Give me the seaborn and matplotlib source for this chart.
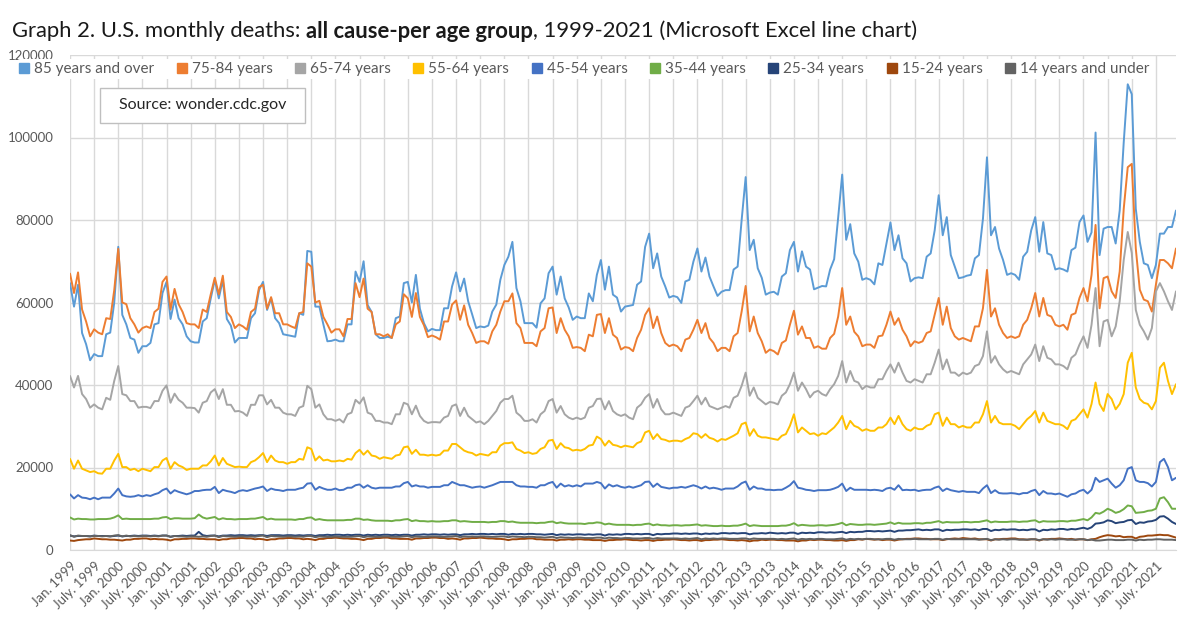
import pandas as pd
import matplotlib
matplotlib.use('Agg')
import matplotlib.pyplot as plt
import seaborn as sns
from matplotlib.lines import Line2D
from matplotlib.patches import Rectangle

sns.set_style('white')
plt.rcParams['font.family'] = ['Lato', 'DejaVu Sans']

# monthly deaths in thousands, one row per year (1999 .. 2021), Jan..Dec
age_85_plus = """
64.7 59.0 64.3 52.6 49.9 46.0 47.5 47.0 47.0 52.3 52.7 60.0
73.5 57.0 54.7 51.4 51.0 47.8 49.4 49.4 50.2 54.7 55.0 62.3
65.0 56.0 60.7 56.2 54.7 51.8 50.6 50.3 50.3 55.4 56.2 61.0
65.5 61.0 65.5 56.0 54.4 50.3 51.4 51.4 51.4 56.2 57.4 63.0
65.0 58.2 61.0 56.2 55.0 52.3 52.1 51.9 51.7 57.4 57.0 72.5
72.3 59.0 59.0 54.7 50.6 50.7 51.0 50.6 50.6 54.7 54.7 67.5
65.0 70.0 59.4 57.7 52.3 51.4 51.4 51.7 51.4 56.2 56.6 64.7
65.0 60.0 66.7 58.5 55.0 53.0 53.6 53.3 53.3 58.6 58.6 63.9
67.3 62.7 65.8 60.3 57.1 53.8 54.2 54.0 54.4 57.8 59.5 65.5
69.1 71.1 74.7 63.5 60.3 55.0 55.0 55.0 53.9 59.8 61.0 67.1
68.7 61.9 66.3 61.0 58.8 55.8 56.6 56.2 56.2 62.2 60.3 66.7
70.3 63.1 68.7 61.9 61.2 57.8 59.0 59.2 59.4 64.3 65.1 73.5
76.7 68.3 71.9 66.3 63.9 61.2 61.6 61.3 59.9 65.1 65.5 69.9
73.1 67.5 70.9 66.3 63.9 61.6 62.6 63.0 63.0 68.0 68.7 80.0
90.4 72.7 75.2 68.3 66.0 61.9 62.4 62.6 61.9 66.3 67.1 72.7
74.7 67.5 72.4 68.7 68.0 63.2 63.6 64.0 63.9 68.0 70.5 80.6
91.0 75.2 79.0 71.9 69.9 65.5 65.9 65.5 64.4 69.5 69.1 74.3
79.4 72.7 76.3 70.7 69.5 65.1 65.9 66.1 65.9 71.1 71.9 77.5
86.0 76.3 80.7 71.5 68.7 65.9 66.1 66.5 66.7 70.7 71.5 80.3
95.2 76.3 78.3 73.1 70.3 66.7 67.1 66.7 65.5 71.1 72.3 77.5
80.7 72.3 79.5 71.9 71.5 68.0 68.3 68.0 67.5 72.7 73.3 79.5
81.1 74.7 77.0 101.2 71.5 77.9 78.3 78.3 74.3 82.3 98.8 112.9
110.5 82.7 74.7 69.5 69.1 65.9 69.1 76.7 76.7 78.3 78.3 82.3
"""

age_75_84 = """
67.0 62.3 67.3 58.3 55.4 51.8 53.5 52.7 52.3 56.2 56.0 63.0
73.0 60.0 59.6 56.2 54.7 52.7 53.8 54.2 53.8 57.7 58.5 65.0
66.3 58.3 63.3 59.6 57.7 55.0 54.7 54.7 53.8 58.3 57.7 62.0
66.0 62.0 66.5 57.7 56.5 53.8 54.7 54.2 53.4 57.7 58.5 63.7
64.3 58.5 61.3 57.4 57.4 54.7 54.7 54.2 53.8 57.4 57.7 69.5
68.7 60.0 60.4 56.5 54.7 52.7 53.5 53.5 51.8 56.0 56.0 64.7
61.3 65.8 58.5 57.7 52.3 52.3 51.8 52.3 51.4 54.7 55.4 62.0
61.0 56.5 62.3 56.5 54.5 51.6 52.0 51.6 51.0 55.4 55.4 59.5
60.5 55.8 59.3 54.6 52.6 50.2 50.6 50.6 50.0 53.0 54.6 57.8
60.3 60.3 62.2 55.0 53.8 50.2 50.2 50.2 49.4 53.0 53.8 58.6
58.8 52.6 56.2 53.4 51.8 49.0 49.2 49.0 48.2 52.2 51.8 57.0
57.2 52.6 56.2 52.2 51.4 48.6 49.2 49.0 48.2 51.4 53.4 57.0
58.6 53.8 56.6 52.6 50.2 49.4 49.8 49.4 48.2 51.0 51.4 53.4
55.8 52.6 55.0 51.4 50.2 48.2 49.0 49.0 48.2 51.8 52.6 57.8
64.0 53.0 56.6 52.6 50.6 47.8 48.6 48.2 47.4 50.2 50.8 54.6
58.0 52.2 54.2 51.4 51.4 49.0 49.4 48.8 48.8 51.4 52.4 56.6
63.5 54.6 56.6 52.9 51.8 49.4 49.8 49.8 49.0 51.8 52.0 54.6
57.8 54.6 56.2 53.4 51.8 49.4 50.6 50.2 50.6 52.6 53.0 57.0
61.1 54.6 59.0 53.8 51.8 51.0 51.4 51.0 50.6 54.2 54.2 58.6
67.9 56.6 58.6 54.6 52.6 51.4 51.8 51.4 51.8 54.6 55.8 58.6
62.3 56.6 61.1 57.0 56.6 54.6 54.2 54.6 53.4 57.0 57.4 61.1
63.5 60.3 66.7 78.8 58.6 65.9 66.3 62.7 61.1 67.5 82.7 92.8
93.6 73.1 63.1 60.7 60.3 57.8 64.3 70.3 70.3 69.5 68.3 73.1
"""

age_65_74 = """
42.2 39.4 42.2 37.8 36.6 34.5 35.3 34.5 34.1 36.9 36.4 41.0
44.6 37.8 37.5 36.1 36.1 34.5 34.7 34.7 34.4 36.1 36.1 38.6
39.9 35.7 37.9 36.4 35.7 34.5 34.5 34.4 33.3 35.7 36.1 38.2
39.0 36.6 39.0 35.2 35.2 33.6 33.7 33.3 32.5 35.2 35.2 37.5
37.5 35.3 36.4 34.5 34.5 33.3 32.9 32.9 32.5 34.5 34.9 39.8
39.0 34.5 35.3 32.9 31.7 31.7 31.3 31.7 30.9 32.9 33.3 36.4
35.5 37.0 33.3 32.9 31.3 31.3 30.9 30.9 30.5 32.9 32.9 35.7
35.3 32.9 35.0 32.5 31.3 30.8 31.0 31.0 30.9 32.1 32.5 34.9
35.3 32.5 34.5 32.5 31.7 30.9 31.2 30.5 31.3 32.5 33.7 35.7
36.6 36.6 37.4 33.3 32.5 31.3 31.3 31.7 30.9 32.9 33.7 36.1
36.6 33.3 34.9 32.9 32.1 31.7 32.1 31.7 32.1 34.5 34.9 36.6
36.7 34.1 36.1 33.7 32.9 32.5 32.9 32.1 31.7 34.5 35.3 36.9
37.8 34.5 36.6 34.1 32.9 32.9 33.3 32.9 32.5 34.5 34.9 36.1
37.4 35.3 36.9 34.9 34.5 34.1 34.5 34.9 34.5 36.9 37.4 39.8
43.0 37.4 39.4 36.9 36.1 35.3 35.9 35.7 35.3 37.4 38.2 40.2
43.0 38.6 40.6 39.0 37.0 38.2 38.6 37.8 37.4 39.0 40.2 42.2
45.8 40.6 43.4 41.0 40.6 39.0 39.8 39.4 39.4 41.4 41.4 43.4
45.0 43.0 45.4 43.0 41.0 40.6 41.4 41.0 40.6 42.6 42.6 45.4
48.6 43.8 46.2 43.0 43.0 42.2 43.0 42.6 43.0 44.6 45.0 47.0
53.0 45.4 47.0 45.0 43.8 43.0 43.4 43.0 42.6 45.0 46.2 47.4
49.8 45.8 49.4 46.6 46.2 45.0 45.0 44.6 43.8 46.6 47.4 49.8
51.8 49.0 54.6 63.5 49.4 55.4 55.8 51.8 54.2 60.3 70.3 77.1
72.0 58.2 54.6 53.0 51.0 53.8 62.7 64.7 62.7 60.3 58.2 62.7
"""

age_55_64 = """
22.1 19.7 21.7 19.7 19.3 18.9 19.1 18.6 18.5 19.7 19.7 21.7
23.3 20.1 20.1 19.4 19.7 19.1 19.7 19.4 19.1 20.1 20.1 21.7
22.3 19.7 21.3 20.5 20.1 19.4 19.7 19.7 19.7 20.5 20.5 21.5
22.9 20.5 22.3 20.9 20.5 20.1 20.2 20.1 20.1 21.3 21.7 22.5
23.5 21.3 22.9 21.7 21.3 21.3 20.9 21.3 21.3 22.1 21.9 24.9
24.5 21.7 22.7 21.7 21.9 21.5 21.5 21.7 21.5 22.1 21.9 23.5
24.3 23.1 24.1 22.9 22.7 22.1 22.5 22.3 22.1 22.9 23.1 24.9
25.1 23.3 24.3 23.1 23.1 22.9 23.1 22.9 23.1 24.1 24.1 25.7
25.7 24.9 24.1 23.7 23.5 22.9 23.3 23.1 22.9 23.7 23.7 25.3
25.9 25.9 26.1 24.5 24.1 23.5 23.7 23.3 23.5 24.5 24.9 26.5
26.7 24.5 25.9 24.9 24.7 24.1 24.3 24.1 24.5 25.3 25.5 27.5
26.9 25.3 26.5 25.5 25.3 24.9 25.3 25.1 24.9 25.9 26.3 28.5
28.9 26.9 28.1 26.9 26.7 26.3 26.5 26.5 26.3 26.9 27.3 28.3
28.1 27.2 28.1 27.2 26.9 26.3 26.9 26.7 27.2 27.7 28.3 30.5
30.9 27.7 29.3 27.7 27.3 27.3 27.1 26.9 26.7 27.7 28.1 30.1
32.9 28.5 29.7 28.9 28.1 28.3 27.7 28.3 28.1 28.9 29.7 30.9
32.5 29.3 31.3 30.1 29.7 28.9 29.3 28.9 28.9 29.7 29.7 30.5
32.1 30.5 32.5 30.5 29.3 28.9 29.7 29.3 29.3 30.1 30.5 32.9
33.3 30.1 32.1 30.5 30.5 29.7 30.1 29.7 29.7 30.9 30.9 32.9
36.1 30.9 32.5 30.9 30.5 30.5 30.5 30.1 29.3 30.5 31.7 32.5
33.7 30.9 33.3 31.3 30.9 30.5 30.5 30.1 29.3 31.3 31.7 32.9
34.1 32.1 35.4 40.6 35.4 33.7 37.8 36.6 34.1 35.4 37.8 45.4
47.8 39.4 36.6 35.7 35.4 34.1 36.1 44.2 45.4 41.0 37.8 40.2
"""

age_45_54 = """
13.5 12.5 13.3 12.7 12.6 12.3 12.7 12.3 12.7 12.7 12.7 13.7
14.9 13.3 13.0 12.9 13.0 13.3 13.0 13.3 13.1 13.5 13.8 14.5
14.9 13.7 14.5 14.1 13.8 13.5 13.8 14.3 14.3 14.5 14.6 14.6
15.3 13.8 14.6 14.3 14.1 13.8 14.3 14.5 14.3 14.6 14.9 15.1
15.4 14.3 14.9 14.6 14.5 14.3 14.6 14.6 14.6 14.9 15.1 16.1
16.2 14.6 15.3 14.9 14.6 14.6 14.9 14.5 14.6 15.1 15.1 15.7
15.9 15.1 15.7 15.1 14.9 15.1 15.1 15.1 15.1 15.4 15.4 16.2
16.5 15.4 15.7 15.4 15.4 15.1 15.3 15.3 15.3 15.7 15.7 16.5
16.1 15.7 15.7 15.4 15.1 15.3 15.4 15.1 15.4 15.7 16.1 16.5
16.5 16.5 16.5 15.7 15.4 15.4 15.3 15.3 15.1 15.7 15.7 16.2
16.5 15.1 16.1 15.4 15.7 15.4 15.7 15.4 16.1 16.1 16.1 16.5
16.2 14.9 15.9 15.4 15.7 15.3 15.1 15.4 15.1 15.4 15.7 16.5
16.6 15.3 16.1 15.3 15.1 14.9 15.1 15.1 15.3 15.1 15.4 15.7
15.4 14.9 15.4 14.9 15.1 14.9 14.6 14.9 14.9 14.9 15.4 16.2
16.6 14.6 15.4 14.9 14.9 14.6 14.6 14.5 14.6 14.6 15.1 15.7
16.7 15.1 14.9 14.6 14.5 14.3 14.5 14.5 14.5 14.6 14.9 15.3
16.1 14.3 15.1 14.6 14.6 14.6 14.6 14.5 14.6 14.5 14.3 14.9
15.1 14.6 15.7 14.5 14.6 14.5 14.6 14.3 14.5 14.6 14.6 15.1
15.4 14.3 14.9 14.5 14.3 14.1 14.3 14.1 14.1 14.1 13.8 14.9
15.7 13.8 14.5 13.8 13.7 13.7 13.8 13.7 13.5 13.8 13.8 14.3
14.6 13.3 14.3 13.7 13.7 13.5 13.7 13.3 12.9 13.5 13.7 14.3
14.6 13.7 14.6 17.5 16.5 16.9 17.3 16.1 15.1 15.7 16.9 19.7
20.1 16.9 16.5 16.5 16.2 15.4 16.5 21.3 22.1 20.1 16.9 17.5
"""

age_35_44 = """
7.9 7.4 7.6 7.5 7.5 7.4 7.4 7.5 7.5 7.5 7.6 7.9
8.4 7.5 7.6 7.5 7.5 7.5 7.5 7.5 7.5 7.6 7.6 7.9
8.0 7.5 7.7 7.7 7.6 7.6 7.6 7.7 8.6 7.9 7.6 7.8
8.0 7.4 7.7 7.5 7.5 7.4 7.5 7.5 7.5 7.6 7.6 7.8
8.0 7.4 7.6 7.4 7.4 7.4 7.4 7.4 7.3 7.5 7.5 7.8
7.9 7.3 7.5 7.3 7.2 7.2 7.2 7.2 7.2 7.3 7.3 7.6
7.6 7.3 7.4 7.2 7.1 7.1 7.1 7.1 7.0 7.2 7.2 7.4
7.5 7.0 7.2 7.0 7.0 6.9 7.0 6.9 6.9 7.0 7.0 7.2
7.2 6.9 7.0 6.9 6.8 6.8 6.8 6.8 6.7 6.8 6.8 7.0
7.0 6.8 6.9 6.7 6.6 6.6 6.6 6.6 6.5 6.6 6.6 6.8
6.9 6.5 6.7 6.5 6.4 6.4 6.4 6.4 6.3 6.5 6.5 6.7
6.6 6.2 6.4 6.2 6.1 6.1 6.1 6.1 6.0 6.1 6.1 6.3
6.4 6.0 6.2 6.0 6.0 5.9 6.0 6.0 5.9 6.0 6.0 6.1
6.2 5.9 6.0 5.9 5.8 5.8 5.9 5.8 5.8 5.9 5.9 6.1
6.4 5.8 6.0 5.9 5.8 5.8 5.8 5.8 5.8 5.9 5.9 6.1
6.5 5.9 6.1 6.0 5.9 5.9 6.0 6.0 5.9 6.0 6.1 6.3
6.6 6.0 6.3 6.2 6.1 6.1 6.2 6.2 6.1 6.2 6.3 6.4
6.7 6.3 6.6 6.4 6.4 6.4 6.5 6.5 6.4 6.6 6.6 6.8
7.0 6.6 6.8 6.7 6.7 6.7 6.8 6.8 6.7 6.8 6.8 7.0
7.2 6.7 6.9 6.8 6.8 6.8 6.9 6.9 6.8 6.9 6.9 7.1
7.2 6.7 7.0 6.9 6.9 6.9 7.0 7.0 6.9 7.1 7.1 7.3
7.5 7.2 7.9 9.0 8.8 9.3 10.0 9.6 9.0 9.3 9.9 10.8
10.6 9.0 9.1 9.2 9.5 9.6 10.0 12.5 12.8 11.6 10.0 10.0
"""

age_25_34 = """
3.5 3.3 3.4 3.4 3.4 3.3 3.5 3.4 3.4 3.4 3.3 3.4
3.5 3.3 3.4 3.4 3.5 3.4 3.5 3.5 3.4 3.5 3.4 3.5
3.5 3.2 3.4 3.4 3.5 3.4 3.5 3.5 4.4 3.6 3.4 3.5
3.5 3.3 3.5 3.5 3.6 3.5 3.6 3.6 3.5 3.6 3.5 3.6
3.6 3.4 3.6 3.6 3.6 3.5 3.6 3.6 3.5 3.6 3.5 3.6
3.6 3.4 3.6 3.6 3.7 3.6 3.7 3.7 3.6 3.7 3.6 3.7
3.7 3.5 3.7 3.6 3.7 3.6 3.7 3.7 3.6 3.7 3.6 3.7
3.7 3.5 3.7 3.7 3.8 3.7 3.8 3.8 3.7 3.8 3.7 3.8
3.8 3.6 3.8 3.8 3.9 3.8 3.9 3.9 3.8 3.9 3.8 3.9
3.9 3.7 3.9 3.8 3.9 3.8 3.9 3.9 3.8 3.8 3.7 3.8
3.9 3.6 3.8 3.7 3.8 3.7 3.8 3.8 3.7 3.8 3.7 3.8
3.8 3.5 3.8 3.7 3.8 3.7 3.9 3.9 3.8 3.9 3.8 3.9
3.9 3.6 3.9 3.8 3.9 3.9 4.0 4.0 3.9 4.0 3.9 4.0
4.0 3.8 4.0 3.9 4.0 3.9 4.1 4.1 4.0 4.1 4.0 4.1
4.1 3.8 4.0 4.0 4.1 4.0 4.2 4.1 4.0 4.1 4.0 4.2
4.2 3.9 4.2 4.1 4.2 4.1 4.3 4.3 4.2 4.3 4.2 4.3
4.4 4.1 4.4 4.3 4.4 4.4 4.6 4.6 4.5 4.6 4.5 4.6
4.7 4.4 4.7 4.7 4.8 4.8 4.9 5.0 4.8 4.9 4.8 5.0
5.0 4.6 4.9 4.8 4.9 4.9 5.0 5.0 4.9 5.0 4.8 5.1
5.1 4.6 4.9 4.8 5.0 4.9 5.0 5.0 4.8 4.9 4.8 5.0
5.0 4.5 4.9 4.8 5.0 4.9 5.1 5.1 4.9 5.1 5.0 5.2
5.4 5.1 5.5 6.4 6.5 6.7 7.2 7.0 6.5 6.7 6.8 7.2
7.3 6.3 6.7 6.6 6.9 7.0 7.3 8.1 8.2 7.6 6.8 6.3
"""

age_15_24 = """
2.3 2.2 2.4 2.5 2.6 2.6 2.8 2.7 2.6 2.6 2.5 2.5
2.4 2.3 2.5 2.5 2.7 2.7 2.8 2.8 2.6 2.7 2.6 2.6
2.5 2.3 2.6 2.6 2.7 2.7 2.8 2.8 2.7 2.7 2.6 2.6
2.6 2.4 2.6 2.6 2.8 2.8 2.9 2.9 2.8 2.8 2.6 2.7
2.6 2.4 2.6 2.6 2.8 2.8 2.9 2.9 2.8 2.8 2.6 2.7
2.6 2.4 2.7 2.7 2.9 2.9 3.0 2.9 2.8 2.8 2.7 2.7
2.6 2.4 2.7 2.7 2.9 2.9 3.0 3.0 2.8 2.8 2.7 2.7
2.7 2.5 2.8 2.8 2.9 2.9 3.0 3.0 2.9 2.9 2.7 2.8
2.7 2.5 2.8 2.8 2.9 2.9 3.0 2.9 2.8 2.8 2.7 2.7
2.6 2.4 2.6 2.6 2.7 2.7 2.8 2.8 2.6 2.6 2.5 2.5
2.5 2.3 2.5 2.5 2.6 2.5 2.6 2.6 2.5 2.5 2.4 2.4
2.4 2.2 2.4 2.4 2.5 2.5 2.6 2.5 2.4 2.4 2.3 2.4
2.4 2.2 2.4 2.4 2.5 2.5 2.6 2.5 2.4 2.4 2.3 2.4
2.4 2.2 2.4 2.4 2.5 2.5 2.6 2.5 2.4 2.4 2.3 2.4
2.3 2.1 2.3 2.3 2.5 2.4 2.5 2.5 2.4 2.4 2.3 2.3
2.3 2.1 2.3 2.3 2.5 2.4 2.5 2.5 2.4 2.4 2.3 2.3
2.4 2.2 2.4 2.4 2.6 2.5 2.7 2.6 2.5 2.6 2.4 2.5
2.5 2.3 2.5 2.6 2.7 2.7 2.8 2.8 2.7 2.7 2.6 2.6
2.6 2.4 2.6 2.7 2.8 2.7 2.9 2.8 2.7 2.8 2.6 2.6
2.6 2.3 2.6 2.6 2.7 2.7 2.8 2.8 2.6 2.6 2.5 2.6
2.6 2.3 2.6 2.6 2.7 2.7 2.8 2.7 2.6 2.7 2.5 2.6
2.6 2.4 2.6 2.7 3.1 3.4 3.6 3.5 3.3 3.4 3.1 3.2
3.2 2.8 3.2 3.3 3.5 3.5 3.6 3.7 3.6 3.6 3.3 3.0
"""

age_14_under = """
3.6 3.2 3.5 3.4 3.4 3.3 3.4 3.4 3.3 3.4 3.3 3.5
3.6 3.3 3.5 3.3 3.4 3.3 3.4 3.4 3.3 3.4 3.3 3.5
3.5 3.2 3.4 3.3 3.3 3.2 3.3 3.3 3.2 3.3 3.2 3.4
3.5 3.1 3.4 3.3 3.3 3.2 3.3 3.3 3.2 3.3 3.2 3.4
3.5 3.1 3.4 3.3 3.3 3.2 3.3 3.3 3.2 3.3 3.2 3.4
3.4 3.1 3.3 3.2 3.2 3.2 3.3 3.2 3.2 3.2 3.2 3.3
3.4 3.1 3.3 3.2 3.2 3.2 3.3 3.3 3.2 3.2 3.2 3.3
3.4 3.1 3.3 3.2 3.2 3.2 3.3 3.3 3.2 3.2 3.2 3.3
3.4 3.1 3.3 3.2 3.3 3.2 3.3 3.3 3.2 3.2 3.2 3.3
3.3 3.1 3.3 3.2 3.2 3.1 3.2 3.2 3.1 3.1 3.0 3.1
3.2 2.9 3.1 3.0 3.0 2.9 3.0 3.0 2.9 2.9 2.9 3.0
3.0 2.8 3.0 2.9 2.9 2.8 2.9 2.9 2.8 2.8 2.8 2.9
2.9 2.7 2.9 2.8 2.8 2.8 2.8 2.8 2.7 2.8 2.7 2.8
2.9 2.6 2.8 2.7 2.8 2.7 2.8 2.8 2.7 2.7 2.7 2.8
2.8 2.6 2.8 2.7 2.7 2.7 2.7 2.7 2.6 2.7 2.6 2.7
2.8 2.5 2.7 2.6 2.7 2.6 2.7 2.7 2.6 2.6 2.6 2.7
2.8 2.5 2.7 2.6 2.7 2.6 2.7 2.7 2.6 2.6 2.6 2.7
2.7 2.5 2.7 2.6 2.6 2.6 2.7 2.6 2.6 2.6 2.6 2.7
2.7 2.5 2.7 2.6 2.6 2.6 2.6 2.6 2.6 2.6 2.5 2.6
2.7 2.4 2.6 2.5 2.6 2.5 2.6 2.6 2.5 2.5 2.5 2.6
2.6 2.4 2.6 2.5 2.6 2.5 2.6 2.6 2.5 2.5 2.5 2.6
2.6 2.4 2.5 2.3 2.3 2.4 2.5 2.5 2.4 2.4 2.4 2.5
2.5 2.3 2.5 2.4 2.5 2.5 2.6 2.6 2.5 2.5 2.5 2.4
"""

groups = ['85 years and over', '75-84 years', '65-74 years', '55-64 years',
          '45-54 years', '35-44 years', '25-34 years', '15-24 years',
          '14 years and under']
series = [age_85_plus, age_75_84, age_65_74, age_55_64, age_45_54,
          age_35_44, age_25_34, age_15_24, age_14_under]
colors = ['#5B9BD5', '#ED7D31', '#A5A5A5', '#FFC000', '#4472C4',
          '#70AD47', '#264478', '#9E480E', '#636363']
years = list(range(1999, 2022))
tick_labels = [f'{m}. {y}' for y in years for m in ('Jan', 'July')]

rows = []
for g, txt in zip(groups, series):
    vals = [float(v) * 1000 for v in txt.split()]
    for i, v in enumerate(vals):
        rows.append({'month': i, 'deaths': v, 'group': g})
df = pd.DataFrame(rows)

fig = plt.figure(figsize=(12, 6.29), dpi=100)
ax = fig.add_axes([70 / 1200, 1 - 550 / 629, 1106 / 1200, 495 / 629])

sns.lineplot(data=df, x='month', y='deaths', hue='group', hue_order=groups,
             palette=colors, linewidth=1.4, legend=False, ax=ax)

ax.set_xlim(0, 275)
ax.set_ylim(0, 120000)
ax.set_yticks(range(0, 120001, 20000))
ax.set_yticklabels([str(v) for v in range(0, 120001, 20000)],
                   fontsize=9.5, color='#595959')
ax.set_xticks(range(0, 276, 6))
ax.set_xticklabels(tick_labels, rotation=45, ha='right',
                   rotation_mode='anchor', fontsize=9.5, color='#595959')
ax.tick_params(axis='y', length=0, pad=12)
ax.tick_params(axis='x', length=4, color='#D9D9D9', pad=3)
ax.grid(True, color='#D9D9D9', linewidth=1)
ax.set_axisbelow(True)
ax.set_xlabel('')
ax.set_ylabel('')
for side in ['top', 'right', 'left']:
    ax.spines[side].set_visible(False)
ax.spines['bottom'].set_color('#D9D9D9')

# title with a bold middle part
renderer = fig.canvas.get_renderer()
x0 = 12 / 1200
ty = 1 - 31 / 629
for part, weight in [('Graph 2. U.S. monthly deaths: ', 'normal'),
                     ('all cause-per age group', 'bold'),
                     (', 1999-2021 (Microsoft Excel line chart)', 'normal')]:
    t = fig.text(x0, ty, part, fontsize=15.8, fontweight=weight,
                 color='#1a1a1a', va='center', ha='left')
    bb = t.get_window_extent(renderer=renderer)
    x0 += bb.width / fig.bbox.width

handles = [Line2D([], [], marker='s', linestyle='', color=c, markersize=7)
           for c in colors]
leg = fig.legend(handles, groups, loc='center left',
                 bbox_to_anchor=(9 / 1200, 1 - 69 / 629), ncol=9,
                 fontsize=11, frameon=True, handlelength=0.6,
                 handletextpad=0.35, columnspacing=1.5, borderpad=0.2)
leg.get_frame().set_facecolor('white')
leg.get_frame().set_edgecolor('none')
leg.get_frame().set_alpha(1)
for txt in leg.get_texts():
    txt.set_color('#595959')

# source note box
fig.patches.append(Rectangle((100 / 1200, 1 - 123 / 629), 205 / 1200, 35 / 629,
                             transform=fig.transFigure, facecolor='white',
                             edgecolor='#BFBFBF', linewidth=1, zorder=5))
fig.text(203 / 1200, 1 - 105.5 / 629, 'Source: wonder.cdc.gov', fontsize=11.5,
         color='#262626', ha='center', va='center', zorder=6)

fig.savefig('out.png', dpi=100)
